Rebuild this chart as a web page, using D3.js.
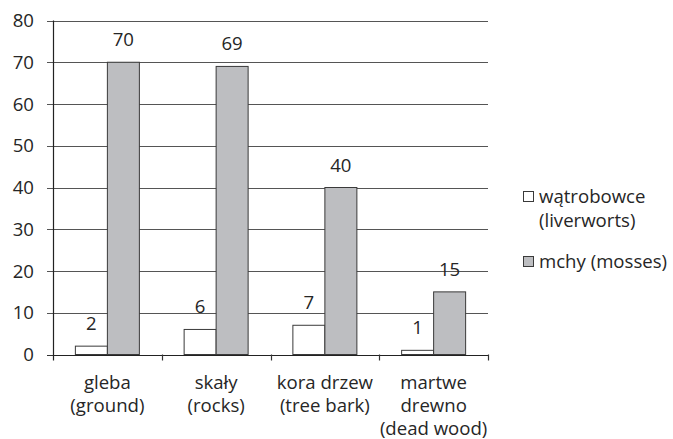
<!DOCTYPE html>
<html>
<head>
<meta charset="utf-8">
<script src="https://cdn.jsdelivr.net/npm/d3@7"></script>
<style>
  html, body { margin: 0; padding: 0; background: #fff; }
  svg text { font-family: "Open Sans", Lato, sans-serif; fill: #262626; }
</style>
</head>
<body>
<svg id="chart" width="673" height="439"></svg>
<script>
// Substrate categories (each label split into display lines)
const categories = [
  ["gleba", "(ground)"],
  ["skały", "(rocks)"],
  ["kora drzew", "(tree bark)"],
  ["martwe", "drewno", "(dead wood)"]
];
const categoryKeys = ["gleba", "skały", "kora drzew", "martwe drewno"];

// Number of species per substrate
const liverworts = [2, 6, 7, 1];
const mosses = [70, 69, 40, 15];

const seriesNames = [["wątrobowce", "(liverworts)"], ["mchy (mosses)"]];
const seriesFill = ["#ffffff", "#bdbec1"];

const yTicks = [0, 10, 20, 30, 40, 50, 60, 70, 80];

const svg = d3.select("#chart");
const plot = { left: 53, right: 488, top: 20.5, bottom: 354.5 };
const fs = "18.6px";

const x = d3.scaleBand()
  .domain(categoryKeys)
  .range([plot.left, plot.right])
  .paddingInner(0)
  .paddingOuter(0);

const y = d3.scaleLinear()
  .domain([0, 80])
  .range([plot.bottom, plot.top]);

const barW = 32;
const xs = d3.scaleBand().domain([0, 1]).range([-barW, barW]);

// Horizontal gridlines (also form the y-axis ticks)
svg.append("g")
  .selectAll("line")
  .data(yTicks)
  .join("line")
  .attr("x1", plot.left - 6)
  .attr("x2", plot.right)
  .attr("y1", d => Math.round(y(d)) + 0.5)
  .attr("y2", d => Math.round(y(d)) + 0.5)
  .attr("stroke", d => d === 0 ? "#333" : "#555")
  .attr("stroke-width", 1.2);

// Y tick labels
svg.append("g")
  .selectAll("text")
  .data(yTicks)
  .join("text")
  .attr("x", 34)
  .attr("y", d => y(d) + 6.5)
  .attr("text-anchor", "end")
  .style("font-size", fs)
  .text(d => d);

// Bars
const seriesData = [liverworts, mosses];
seriesData.forEach((vals, si) => {
  const g = svg.append("g");
  g.selectAll("rect")
    .data(vals)
    .join("rect")
    .attr("x", (d, i) => x(categoryKeys[i]) + x.bandwidth() / 2 + xs(si))
    .attr("y", d => y(d))
    .attr("width", xs.bandwidth())
    .attr("height", d => y(0) - y(d))
    .attr("fill", seriesFill[si])
    .attr("stroke", "#3a3a3a")
    .attr("stroke-width", 1);
  g.selectAll("text")
    .data(vals)
    .join("text")
    .attr("x", (d, i) => x(categoryKeys[i]) + x.bandwidth() / 2 + xs(si) + xs.bandwidth() / 2)
    .attr("y", d => y(d) - 16)
    .attr("text-anchor", "middle")
    .style("font-size", fs)
    .text(d => d);
});

// Axis lines
svg.append("line")
  .attr("x1", plot.left + 0.5).attr("x2", plot.left + 0.5)
  .attr("y1", plot.top).attr("y2", plot.bottom + 6)
  .attr("stroke", "#222").attr("stroke-width", 1.2);
svg.append("line")
  .attr("x1", plot.left).attr("x2", plot.right)
  .attr("y1", Math.round(plot.bottom) + 0.5).attr("y2", Math.round(plot.bottom) + 0.5)
  .attr("stroke", "#222").attr("stroke-width", 1.2);

// X tick marks at category boundaries
const boundaries = categoryKeys.map(k => x(k)).concat([x(categoryKeys[3]) + x.bandwidth()]);
svg.append("g")
  .selectAll("line")
  .data(boundaries.slice(1))
  .join("line")
  .attr("x1", d => Math.round(d) + 0.5)
  .attr("x2", d => Math.round(d) + 0.5)
  .attr("y1", plot.bottom)
  .attr("y2", plot.bottom + 6)
  .attr("stroke", "#333")
  .attr("stroke-width", 1.2);

// X category labels
const xl = svg.append("g");
categories.forEach((lines, i) => {
  const t = xl.append("text")
    .attr("x", x(categoryKeys[i]) + x.bandwidth() / 2)
    .attr("y", 389)
    .attr("text-anchor", "middle")
    .style("font-size", fs);
  lines.forEach((ln, j) => {
    t.append("tspan")
      .attr("x", x(categoryKeys[i]) + x.bandwidth() / 2)
      .attr("y", 389 + j * 23)
      .text(ln);
  });
});

// Legend
const legend = svg.append("g");
const legendRows = [{ y: 191, ty: 203 }, { y: 256, ty: 268 }];
seriesNames.forEach((lines, si) => {
  legend.append("rect")
    .attr("x", 523.5)
    .attr("y", legendRows[si].y + 0.5)
    .attr("width", 10)
    .attr("height", 10)
    .attr("fill", seriesFill[si])
    .attr("stroke", "#3a3a3a")
    .attr("stroke-width", 1);
  const t = legend.append("text")
    .style("font-size", fs);
  lines.forEach((ln, j) => {
    t.append("tspan")
      .attr("x", 539)
      .attr("y", legendRows[si].ty + j * 24)
      .text(ln);
  });
});
</script>
</body>
</html>
